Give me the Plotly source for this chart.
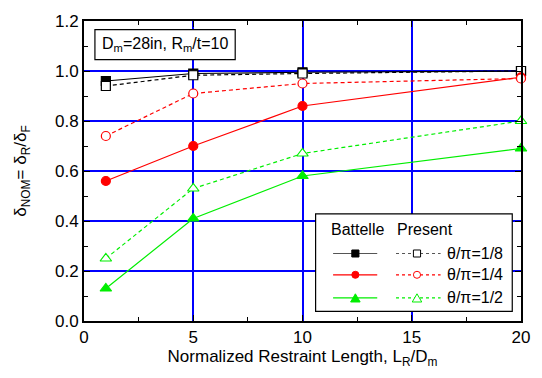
import plotly.graph_objects as go

x_vals = [1, 5, 10, 20]
battelle_18 = [0.96, 0.99, 0.995, 1.0]
present_18 = [0.94, 0.983, 0.99, 1.0]
battelle_14 = [0.56, 0.70, 0.86, 0.975]
present_14 = [0.74, 0.91, 0.95, 0.97]
battelle_12 = [0.13, 0.41, 0.58, 0.69]
present_12 = [0.25, 0.53, 0.67, 0.80]
legend_labels = ["θ/π=1/8", "θ/π=1/4", "θ/π=1/2"]
x_ticks = [0, 5, 10, 15, 20]
y_ticks = [0.0, 0.2, 0.4, 0.6, 0.8, 1.0, 1.2]

BLACK = "#000000"
RED = "#ff0000"
GREEN = "#00ee00"
BLUE = "#0000ff"
FS = 17
FS_LEG = 16

series = [
    (battelle_18, BLACK, "square", True),
    (present_18, BLACK, "square", False),
    (battelle_14, RED, "circle", True),
    (present_14, RED, "circle", False),
    (battelle_12, GREEN, "triangle-up", True),
    (present_12, GREEN, "triangle-up", False),
]

fig = go.Figure()
for ys, col, sym, filled in series:
    fig.add_trace(go.Scatter(
        x=x_vals, y=ys, mode="lines+markers",
        line=dict(color=col, width=1.2, dash="solid" if filled else "4px,3px"),
        marker=dict(symbol=sym, size=9 if sym != "triangle-up" else 10,
                    color=col if filled else "white",
                    line=dict(color=col, width=1.2)),
        showlegend=False, cliponaxis=False,
    ))

# ---- hand-built legend (paper coordinates of the plot area) ----
PW, PH = 440.0, 308.0
leg_rows_y = [0.225, 0.154, 0.077]
leg_colors = [BLACK, RED, GREEN]
leg_syms = ["square", "circle", "triangle-up"]
shapes = [
    dict(type="rect", xref="paper", yref="paper", x0=0.025, x1=0.346, y0=0.871, y1=0.971,
         line=dict(color="black", width=1.2), fillcolor="white", layer="above"),
    dict(type="rect", xref="paper", yref="paper", x0=0.53, x1=0.98, y0=0.032, y1=0.357,
         line=dict(color="black", width=1.2), fillcolor="white", layer="above"),
]


def key_marker(cx, cy, sym, col, filled):
    hx = 3.6 / PW
    hy = 3.6 / PH
    fill = col if filled else "white"
    ln = dict(color=col, width=1)
    if sym == "square":
        return dict(type="rect", xref="paper", yref="paper", x0=cx - hx, x1=cx + hx,
                    y0=cy - hy, y1=cy + hy, line=ln, fillcolor=fill, layer="above")
    if sym == "circle":
        return dict(type="circle", xref="paper", yref="paper", x0=cx - hx, x1=cx + hx,
                    y0=cy - hy, y1=cy + hy, line=ln, fillcolor=fill, layer="above")
    tx = 4.8 / PW
    ty = 4.2 / PH
    path = f"M {cx - tx} {cy - ty} L {cx + tx} {cy - ty} L {cx} {cy + ty} Z"
    return dict(type="path", xref="paper", yref="paper", path=path, line=ln,
                fillcolor=fill, layer="above")


for ry, col, sym in zip(leg_rows_y, leg_colors, leg_syms):
    lc = "#555555" if col == BLACK else col
    shapes.append(dict(type="line", xref="paper", yref="paper", x0=0.570, x1=0.671,
                       y0=ry, y1=ry, line=dict(color=lc, width=1.2), layer="above"))
    shapes.append(key_marker(0.621, ry, sym, col, True))
    shapes.append(dict(type="line", xref="paper", yref="paper", x0=0.714, x1=0.816,
                       y0=ry, y1=ry, line=dict(color=lc, width=1.2, dash="3px,3px"),
                       layer="above"))
    shapes.append(key_marker(0.762, ry, sym, col, False))

font = dict(family="Arial, Liberation Sans, sans-serif", size=FS, color="black")

fig.update_layout(
    width=542, height=378,
    margin=dict(l=84, r=18, t=13, b=57),
    plot_bgcolor="white", paper_bgcolor="white",
    font=font,
    xaxis=dict(range=[0, 20], tickvals=x_ticks, ticks="inside", ticklen=6,
               tickcolor="black", linecolor="black", linewidth=2, mirror="ticks",
               showgrid=True, gridcolor=BLUE, gridwidth=1.5, zeroline=False,
               minor=dict(ticks="inside", ticklen=4, dtick=2.5, tick0=0,
                          tickcolor="black", showgrid=False),
               title=dict(text="Normalized Restraint Length, L<sub>R</sub>/D<sub>m</sub>",
                          font=dict(size=FS), standoff=2),
               tickfont=dict(size=FS)),
    yaxis=dict(range=[0, 1.2], tickvals=y_ticks, tickformat=".1f", ticks="inside", ticklen=6,
               tickcolor="black", linecolor="black", linewidth=2, mirror="ticks",
               showgrid=True, gridcolor=BLUE, gridwidth=1.5, zeroline=False,
               minor=dict(ticks="inside", ticklen=4, dtick=0.1, tick0=0,
                          tickcolor="black", showgrid=False),
               title=dict(text="δ<sub>NOM</sub>= δ<sub>R</sub>/δ<sub>F</sub>",
                          font=dict(size=FS), standoff=24),
               tickfont=dict(size=FS)),
    shapes=shapes,
    annotations=[
        dict(text="D<sub>m</sub>=28in, R<sub>m</sub>/t=10", xref="paper", yref="paper",
             x=0.186, y=0.921, xanchor="center", yanchor="middle",
             showarrow=False, font=dict(size=16)),
        dict(text="Battelle", xref="paper", yref="paper", x=0.627, y=0.306,
             xanchor="center", yanchor="middle", showarrow=False, font=dict(size=FS_LEG)),
        dict(text="Present", xref="paper", yref="paper", x=0.78, y=0.306,
             xanchor="center", yanchor="middle", showarrow=False, font=dict(size=FS_LEG)),
    ] + [
        dict(text=lab, xref="paper", yref="paper", x=0.827, y=ry, xanchor="left",
             yanchor="middle", showarrow=False, font=dict(size=FS_LEG))
        for lab, ry in zip(legend_labels, leg_rows_y)
    ],
)

fig.write_html("out.html", config={"displayModeBar": False},
               post_script="document.body.style.margin='0';")
